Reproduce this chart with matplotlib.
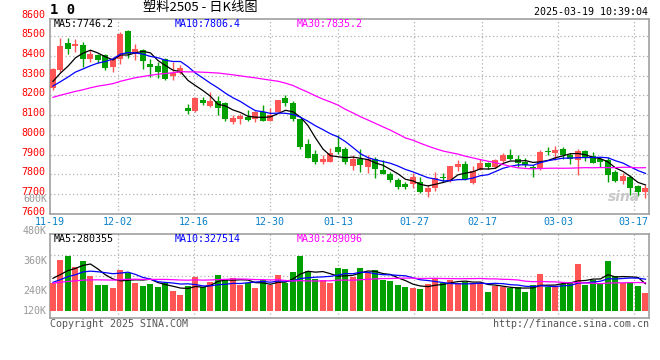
import numpy as np
import pandas as pd
import matplotlib
matplotlib.use("Agg")
import matplotlib.pyplot as plt

# ===== Data =====
TITLE = "塑料2505 - 日K线图"
STAMP = "2025-03-19 10:39:04"

OPEN = [8240, 8327, 8468, 8451, 8454, 8387, 8407, 8407, 8344, 8387,
        8525, 8412, 8429, 8361, 8349, 8387, 8299, 8316, 8137, 8121,
        8176, 8145, 8171, 8162, 8066, 8079, 8091, 8078, 8116, 8071,
        8116, 8187, 8162, 8078, 7953, 7902, 7863, 7863, 7936, 7926,
        7843, 7878, 7838, 7877, 7821, 7801, 7771, 7749, 7750, 7762,
        7708, 7729, 7786, 7767, 7838, 7852, 7757, 7821, 7855, 7835,
        7868, 7897, 7877, 7863, 7838, 7825, 7919, 7906, 7928, 7900,
        7872, 7919, 7894, 7877, 7872, 7813, 7767, 7787, 7740, 7711]
HIGH = [8340, 8491, 8491, 8488, 8471, 8429, 8412, 8412, 8395, 8521,
        8530, 8463, 8434, 8387, 8370, 8390, 8370, 8353, 8155, 8190,
        8192, 8215, 8196, 8167, 8100, 8108, 8128, 8120, 8150, 8134,
        8178, 8201, 8170, 8080, 7977, 7922, 7897, 7931, 7998, 7936,
        7897, 7928, 7897, 7888, 7870, 7812, 7779, 7762, 7804, 7784,
        7745, 7813, 7806, 7841, 7870, 7868, 7841, 7877, 7860, 7877,
        7906, 7926, 7900, 7883, 7846, 7922, 7936, 7941, 7936, 7906,
        7926, 7922, 7914, 7890, 7889, 7821, 7808, 7796, 7745, 7745]
LOW = [8225, 8320, 8412, 8420, 8344, 8367, 8363, 8327, 8319, 8361,
       8390, 8378, 8336, 8294, 8289, 8280, 8277, 8310, 8105, 8118,
       8149, 8143, 8100, 8069, 8053, 8054, 8071, 8064, 8069, 8071,
       8116, 8145, 8070, 7930, 7880, 7852, 7850, 7860, 7905, 7850,
       7820, 7813, 7804, 7779, 7800, 7762, 7723, 7723, 7728, 7706,
       7686, 7715, 7760, 7762, 7818, 7770, 7750, 7821, 7828, 7832,
       7863, 7872, 7838, 7835, 7787, 7821, 7897, 7874, 7877, 7852,
       7796, 7866, 7855, 7838, 7762, 7762, 7750, 7695, 7690, 7678]
CLOSE = [8336, 8451, 8434, 8463, 8387, 8412, 8378, 8339, 8383, 8513,
         8412, 8434, 8375, 8344, 8319, 8285, 8316, 8339, 8121, 8187,
         8159, 8171, 8137, 8078, 8086, 8095, 8074, 8116, 8071, 8100,
         8176, 8159, 8078, 7936, 7885, 7863, 7877, 7909, 7911, 7860,
         7878, 7846, 7877, 7826, 7801, 7771, 7737, 7737, 7787, 7711,
         7732, 7779, 7782, 7841, 7852, 7774, 7816, 7855, 7835, 7872,
         7897, 7877, 7855, 7846, 7825, 7914, 7911, 7922, 7897, 7877,
         7919, 7880, 7858, 7860, 7796, 7767, 7791, 7729, 7711, 7732]
# volume, lots
VOLUME = [289, 523, 568, 448, 513, 358, 265, 265, 234, 420,
          386, 289, 255, 276, 245, 283, 203, 162, 255, 348,
          242, 299, 369, 327, 338, 265, 283, 234, 317, 265,
          369, 289, 400, 568, 410, 324, 317, 289, 441, 431,
          351, 441, 386, 420, 317, 307, 265, 245, 234, 224,
          276, 338, 283, 317, 289, 299, 289, 283, 193, 258,
          242, 234, 242, 193, 262, 379, 242, 248, 273, 293,
          482, 265, 317, 283, 513, 361, 289, 300, 255, 186]
VOLUME = [v * 1000 for v in VOLUME]

# sessions before 11-19 (only feed the moving averages, estimated)
PRE_CLOSE = [8120, 8150, 8170, 8140, 8110, 8130, 8160, 8180, 8150, 8140,
             8170, 8190, 8160, 8150, 8180, 8200, 8170, 8160, 8190, 8210,
             8230, 8200, 8210, 8230, 8250, 8240, 8260, 8250, 8270]
PRE_VOLUME = [270, 290, 260, 300, 280, 250, 310, 270, 290, 260,
              280, 300, 270, 260, 290, 280, 270, 300, 260, 320,
              240, 260, 250, 230, 275, 330, 360, 340, 355]
PRE_VOLUME = [v * 1000 for v in PRE_VOLUME]

DATE_LABELS = ["11-19", "12-02", "12-16", "12-30", "01-13", "01-27",
               "02-17", "03-03", "03-17"]
DATE_IDX = [0, 9, 19, 29, 38, 48, 57, 67, 77]
PRICE_TICKS = [7600, 7700, 7800, 7900, 8000, 8100, 8200, 8300, 8400, 8500, 8600]
VOL_LABELS = ["600K", "480K", "360K", "240K", "120K"]
MA_TEXT = ["MA5:7746.2", "MA10:7806.4", "MA30:7835.2"]
VMA_TEXT = ["MA5:280355", "MA10:327514", "MA30:289096"]
# ==================

RED = "#ff5555"
GREEN = "#00a000"
MA_COLORS = ["black", "#0000ff", "#ff00ff"]
GRID = "#b0b0b0"
MONO = "DejaVu Sans Mono"
FS = 7.2

W, H = 660, 360
fig = plt.figure(figsize=(W / 100, H / 100), dpi=100)
ax = fig.add_axes([50 / W, 1 - 213.7 / H, 599 / W, 194.4 / H])
axv = fig.add_axes([50 / W, 1 - 318 / H, 599 / W, 84 / H])

n = len(CLOSE)
x = np.arange(n)
o = np.array(OPEN, float)
c = np.array(CLOSE, float)
up = c >= o
cols = np.where(up, RED, GREEN)

xlim = (-0.4, 79.47)
grid_x = [xlim[0] + i * (xlim[1] - xlim[0]) / 79 for i in DATE_IDX]

# ---- price panel ----
ax.vlines(x, LOW, HIGH, colors=cols, linewidth=1, zorder=3)
body_lo = np.minimum(o, c)
body_h = np.maximum(np.abs(c - o), 1.5)
ax.bar(x, body_h, bottom=body_lo, width=0.8, color=cols, linewidth=0, zorder=4)

closes = pd.Series(PRE_CLOSE + CLOSE, dtype=float)
for win, col in zip([5, 10, 30], MA_COLORS):
    ma = closes.rolling(win).mean().iloc[len(PRE_CLOSE):].values
    ax.plot(x, ma, color=col, linewidth=0.9, zorder=5)

ax.set_xlim(*xlim)
ax.set_ylim(7600, 8586)
for v in PRICE_TICKS[1:-1]:
    ax.axhline(v, color=GRID, linestyle=(0, (1, 2)), linewidth=0.9, zorder=1)
for gx in grid_x[1:]:
    ax.axvline(gx, color=GRID, linestyle=(0, (1, 2)), linewidth=0.9, zorder=1)
ax.set_xticks([])
ax.set_yticks([])
for v in PRICE_TICKS:
    ax.annotate(str(v), xy=(0, v), xycoords=("axes fraction", "data"),
                xytext=(-3, 1.4), textcoords="offset points",
                ha="right", va="center", color="#ff0000",
                family=MONO, fontsize=FS, annotation_clip=False)
for gx, lbl in zip(grid_x, DATE_LABELS):
    ax.annotate(lbl, xy=(gx, 0), xycoords=("data", "axes fraction"),
                xytext=(0, -5.8), textcoords="offset points",
                ha="center", va="center", color="#0a80c8",
                family=MONO, fontsize=FS, annotation_clip=False)

ma_x = [54, 175, 297]
for tx, t, col in zip(ma_x, MA_TEXT, MA_COLORS):
    fig.text(tx / W, 1 - 24 / H, t, color=col, family=MONO, fontsize=FS,
             va="center", ha="left")
ax.text(0.985, 0.085, "sina", transform=ax.transAxes, ha="right", va="center",
        fontsize=10, style="italic", weight="bold", color="#c8c8c8", zorder=6)

# ---- volume panel ----
vol = np.array(VOLUME, float)
axv.bar(x, vol, width=0.8, color=cols, linewidth=0, zorder=3)
vols = pd.Series(PRE_VOLUME + VOLUME, dtype=float)
for win, col in zip([5, 10, 30], MA_COLORS):
    ma = vols.rolling(win).mean().iloc[len(PRE_VOLUME):].values
    axv.plot(x, ma, color=col, linewidth=0.9, zorder=5)

px_per = 10325.0
axv.set_xlim(*xlim)
axv.set_ylim(-7.3 * px_per, 76.7 * px_per)
vlo, vhi = axv.get_ylim()
for k in (1, 2, 3):
    axv.axhline(vlo + k * (vhi - vlo) / 4, color=GRID, linestyle=(0, (1, 2)),
                linewidth=0.9, zorder=1)
for gx in grid_x[1:]:
    axv.axvline(gx, color=GRID, linestyle=(0, (1, 2)), linewidth=0.9, zorder=1)
axv.set_xticks([])
axv.set_yticks([])

vlab_y = [199.5, 230.7, 260.7, 290.5, 310.7]
for yy, t in zip(vlab_y, VOL_LABELS):
    fig.text(47 / W, 1 - yy / H, t, color="#999999", family=MONO, fontsize=FS,
             ha="right", va="center")
for tx, t, col in zip(ma_x, VMA_TEXT, MA_COLORS):
    fig.text(tx / W, 1 - 238.5 / H, t, color=col, family=MONO, fontsize=FS,
             va="center", ha="left")

for a in (ax, axv):
    for s in a.spines.values():
        s.set_color("#a0a0a0")
        s.set_linewidth(1.2)

# ---- header / footer ----
fig.text(50 / W, 1 - 9.5 / H, "1 0", family=MONO, weight="bold", fontsize=10,
         va="center", ha="left")
fig.text(200 / W, 1 - 8 / H, TITLE, family=["Noto Sans CJK SC", "DejaVu Sans"],
         fontsize=9.5, va="center", ha="center")
fig.text(648 / W, 1 - 12 / H, STAMP, family=MONO, fontsize=FS,
         va="center", ha="right")
fig.text(50 / W, 1 - 324 / H, "Copyright 2025 SINA.COM", family=MONO,
         fontsize=FS, color="#555555", va="center", ha="left")
fig.text(649 / W, 1 - 324 / H, "http://finance.sina.com.cn", family=MONO,
         fontsize=FS, color="#555555", va="center", ha="right")

fig.savefig("out.png", dpi=100)
